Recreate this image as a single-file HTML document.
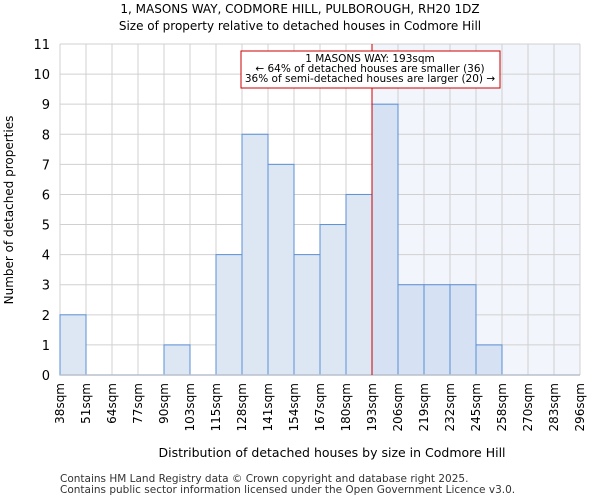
<!DOCTYPE html>
<html><head><meta charset="utf-8"><style>
body{margin:0;background:#fff;font-family:"DejaVu Sans","Liberation Sans",sans-serif;}
</style></head><body>
<svg width="600" height="500" xmlns="http://www.w3.org/2000/svg" font-family="DejaVu Sans, Liberation Sans, sans-serif">
<text x="300" y="13" text-anchor="middle" font-size="12">1, MASONS WAY, CODMORE HILL, PULBOROUGH, RH20 1DZ</text>
<text x="300" y="30" text-anchor="middle" font-size="12">Size of property relative to detached houses in Codmore Hill</text>
<g id="plot"></g>
<text x="332" y="457" text-anchor="middle" font-size="12.5">Distribution of detached houses by size in Codmore Hill</text>
<text transform="translate(13,210) rotate(-90)" text-anchor="middle" font-size="12">Number of detached properties</text>
<text x="60" y="482" font-size="10.5" fill="#333">Contains HM Land Registry data © Crown copyright and database right 2025.</text>
<text x="60" y="493" font-size="10.5" fill="#333">Contains public sector information licensed under the Open Government Licence v3.0.</text>
</svg>
<script>
const categories=["38sqm","51sqm","64sqm","77sqm","90sqm","103sqm","115sqm","128sqm","141sqm","154sqm","167sqm","180sqm","193sqm","206sqm","219sqm","232sqm","245sqm","258sqm","270sqm","283sqm","296sqm"];
const counts=[2,0,0,0,1,0,4,8,7,4,5,6,9,3,3,3,1,0,0,0];
const yTicks=[0,1,2,3,4,5,6,7,8,9,10,11];
const markerIndex=12;
const NS="http://www.w3.org/2000/svg";
const g=document.getElementById('plot');
const X0=60,X1=580,Y0=375,Y1=44,yMax=11;
const bw=(X1-X0)/counts.length;
const xs=i=>X0+i*bw;
const ys=v=>Y0-(Y0-Y1)*v/yMax;
function mk(t,a){const e=document.createElementNS(NS,t);for(const k in a)e.setAttribute(k,a[k]);g.appendChild(e);return e;}
let e=mk('rect',{x:xs(markerIndex),y:Y1,width:X1-xs(markerIndex),height:Y0-Y1,fill:'#f2f5fc'});


for(let i=0;i<=counts.length;i++){e=mk('line',{x1:xs(i),x2:xs(i),y1:Y1,y2:Y0,stroke:'#d0d0d0','stroke-width':1});

}
yTicks.forEach(v=>{e=mk('line',{x1:X0,x2:X1,y1:ys(v),y2:ys(v),stroke:'#d0d0d0','stroke-width':1});


e=mk('text',{x:X0-10,y:ys(v)+5,'text-anchor':'end','font-size':13});e.textContent=v;

});
counts.forEach((c,i)=>{if(c<=0)return;
e=mk('rect',{x:xs(i),y:ys(c),width:bw,height:Y0-ys(c),fill:i>=markerIndex?'#d6e1f3':'#dde7f4',stroke:'#5b8fd6','stroke-width':1});

});
e=mk('line',{x1:X0,x2:X1,y1:Y0,y2:Y0,stroke:'#b8c0cc','stroke-width':1.5});


e=mk('line',{x1:xs(markerIndex),x2:xs(markerIndex),y1:Y1,y2:Y0,stroke:'#cc0000','stroke-width':1});


categories.forEach((c,i)=>{e=mk('text',{transform:`translate(${xs(i)+4},383) rotate(-90)`,'text-anchor':'end','font-size':12});e.textContent=c;

});
e=mk('rect',{x:241,y:51,width:259,height:37,fill:'#fff',stroke:'#cc0000','stroke-width':1});


["1 MASONS WAY: 193sqm","← 64% of detached houses are smaller (36)","36% of semi-detached houses are larger (20) →"].forEach((t,k)=>{
e=mk('text',{x:370,y:62+k*10,'text-anchor':'middle','font-size':10.5});e.textContent=t;

});
</script>
</body></html>
